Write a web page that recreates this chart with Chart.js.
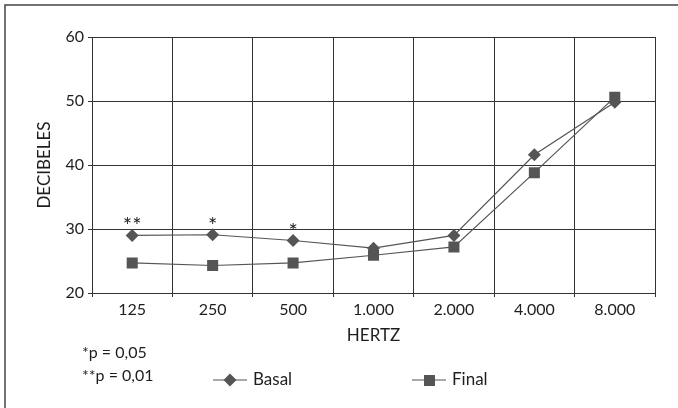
<!DOCTYPE html>
<html>
<head>
<meta charset="utf-8">
<script src="https://cdn.jsdelivr.net/npm/chart.js@4/dist/chart.umd.min.js"></script>
<style>
  html, body { margin: 0; padding: 0; background: #fff; }
  #wrap { width: 678px; height: 408px; position: relative; }
</style>
</head>
<body>
<div id="wrap"><canvas id="chart"></canvas></div>
<script>
// data
var hertz = ["125", "250", "500", "1.000", "2.000", "4.000", "8.000"];
var basal = [29.0, 29.1, 28.2, 27.0, 29.0, 41.6, 49.8];
var final = [24.7, 24.3, 24.7, 25.9, 27.2, 38.8, 50.6];
var stars = ["**", "*", "*", "", "", "", ""];
var yTicks = [20, 30, 40, 50, 60];

var ink = "#1e1e1e";
var grey = "#555";
var fontName = "Lato, 'Open Sans', sans-serif";

// frame, titles, footnotes, asterisks and legend
var extras = {
  id: "extras",
  beforeDraw: function(chart) {
    var c = chart.ctx;
    c.save();
    c.strokeStyle = "#444";
    c.lineWidth = 1.5;
    c.beginPath();
    c.moveTo(5, 408);
    c.lineTo(5, 5);
    c.lineTo(678, 5);
    c.stroke();
    c.restore();
  },
  afterDraw: function(chart) {
    var c = chart.ctx;
    var xs = chart.scales.x, ys = chart.scales.y;
    c.save();
    c.fillStyle = ink;
    c.font = "17px " + fontName;
    c.textAlign = "center";
    c.textBaseline = "middle";
    c.fillText("HERTZ", (chart.chartArea.left + chart.chartArea.right) / 2, 336);

    c.save();
    c.translate(45, 165);
    c.rotate(-Math.PI / 2);
    c.fillText("DECIBELES", 0, 0);
    c.restore();

    // significance marks over the basal points
    c.textBaseline = "alphabetic";
    c.font = "22px " + fontName;
    for (var i = 0; i < stars.length; i++) {
      if (!stars[i]) continue;
      c.fillText(stars[i], xs.getPixelForValue(i), ys.getPixelForValue(basal[i]) - 2);
    }

    // footnotes
    c.font = "16px " + fontName;
    c.textAlign = "left";
    c.textBaseline = "middle";
    c.fillText("*p = 0,05", 82, 353);
    c.fillText("**p = 0,01", 82, 376);

    // legend
    function entry(x, label, style) {
      var y = 380;
      c.strokeStyle = grey;
      c.lineWidth = 1.2;
      c.beginPath();
      c.moveTo(x, y);
      c.lineTo(x + 34, y);
      c.stroke();
      c.fillStyle = grey;
      if (style === "rectRot") {
        Chart.helpers.drawPoint(c, { pointStyle: "rectRot", radius: 6.5, borderWidth: 0 }, x + 17, y);
      } else {
        c.fillRect(x + 12, y - 5, 11, 11);
      }
      c.fillStyle = ink;
      c.font = "17px " + fontName;
      c.fillText(label, x + 40, y);
    }
    entry(213, "Basal", "rectRot");
    entry(412, "Final", "rect");
    c.restore();
  }
};

new Chart(document.getElementById("chart"), {
  type: "line",
  data: {
    labels: hertz,
    datasets: [
      {
        label: "Basal",
        data: basal,
        borderColor: grey,
        backgroundColor: grey,
        borderWidth: 1.2,
        pointStyle: "rectRot",
        pointRadius: 6.5,
        pointBorderWidth: 0,
        tension: 0
      },
      {
        label: "Final",
        data: final,
        borderColor: grey,
        backgroundColor: grey,
        borderWidth: 1.2,
        pointStyle: "rect",
        pointRadius: 7.8,
        pointBorderWidth: 0,
        tension: 0
      }
    ]
  },
  options: {
    responsive: true,
    maintainAspectRatio: false,
    animation: false,
    layout: { padding: { left: 0, top: 37, right: 23, bottom: 0 } },
    plugins: { legend: { display: false }, tooltip: { enabled: false } },
    scales: {
      x: {
        offset: true,
        grid: { offset: true, color: "#333", lineWidth: 1, tickLength: 4, drawTicks: true },
        border: { color: "#333", width: 1 },
        ticks: { color: ink, font: { family: fontName, size: 16 }, padding: 3, maxRotation: 0 },
        afterFit: function(s) { s.height = 115; }
      },
      y: {
        min: 20,
        max: 60,
        afterBuildTicks: function(s) { s.ticks = yTicks.map(function(v) { return { value: v }; }); },
        grid: { color: "#333", lineWidth: 1, tickLength: 4 },
        border: { color: "#333", width: 1 },
        ticks: { color: ink, font: { family: fontName, size: 16 }, padding: 4 },
        afterFit: function(s) { s.width = 92; }
      }
    }
  },
  plugins: [extras]
});
</script>
</body>
</html>
